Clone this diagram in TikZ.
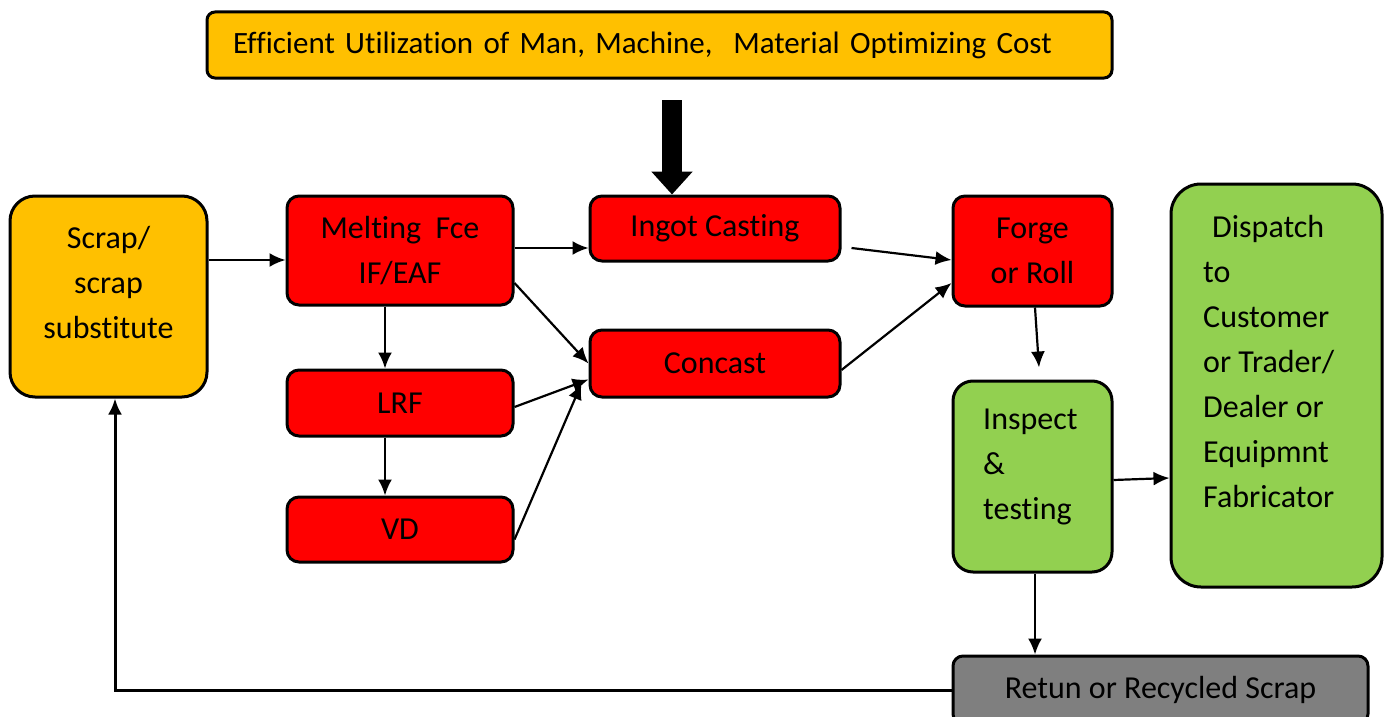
\documentclass[tikz,border=0pt]{standalone}
\usepackage{fontspec}
\setmainfont{Carlito}[Ligatures=NoCommon]
\usepackage{tikz}
\usetikzlibrary{arrows.meta}
\usetikzlibrary{calc}
\definecolor{amber}{HTML}{FFC000}
\definecolor{leafgreen}{HTML}{92D050}
\definecolor{slag}{HTML}{7F7F7F}

\begin{document}
\begin{tikzpicture}[x=1pt,y=-1pt,
  font=\fontsize{32}{45}\selectfont,
  box/.style={draw=black,line width=3pt,rounded corners=12pt,inner sep=0pt,align=center},
  hot/.style={box,fill=red},
  conn/.style={line width=2.2pt,-{Latex[length=16pt,width=14pt]}},
  txt/.style={inner sep=0pt,align=left,anchor=west}]
\useasboundingbox (0,0) rectangle (1389,717);
% boxes
\node[box,fill=amber,minimum width=905pt,minimum height=66pt,rounded corners=8pt,text width=853pt,align=left,font=\fontsize{31}{45}\selectfont] (goal) at (659.5,45) {Efficient Utilization of Man, Machine,\ \ Material Optimizing Cost};
\node[box,fill=amber,minimum width=197pt,minimum height=201pt,rounded corners=25pt] (scrap) at (108.5,296.5) {};
\node[hot,minimum width=226pt,minimum height=109pt] (melt) at (400,250.5) {Melting\ \ Fce\\IF/EAF};
\node[hot,minimum width=250pt,minimum height=65pt] (ingot) at (715,228.5) {Ingot Casting};
\node[hot,minimum width=250pt,minimum height=67pt] (concast) at (715,363.5) {Concast};
\node[hot,minimum width=226pt,minimum height=66pt] (lrf) at (400,403) {LRF};
\node[hot,minimum width=226pt,minimum height=65pt] (vd) at (400,529.5) {VD};
\node[hot,minimum width=159pt,minimum height=110pt] (forge) at (1032.5,251) {Forge\\or Roll};
\node[box,fill=leafgreen,minimum width=159pt,minimum height=191pt,rounded corners=20pt] (inspect) at (1032.5,476.5) {};
\node[box,fill=leafgreen,minimum width=211pt,minimum height=403pt,rounded corners=30pt] (dispatch) at (1276.5,385.5) {};
\node[box,fill=slag,minimum width=415pt,minimum height=68pt,rounded corners=10pt] (ret) at (1160.5,690) {Retun or Recycled Scrap};
% texts
\node[inner sep=0pt,align=center] (scraptxt) at (108.5,283) {Scrap/\\scrap\\substitute};
\node[txt] (insptxt) at (983,467) {Inspect\\\&\\testing};
\node[txt] (disptxt) at (1203,362) {\hspace*{9pt}Dispatch\\to\\Customer\\or Trader/\\Dealer or\\Equipmnt\\Fabricator};
% thick arrow
\coordinate (push) at (672,100);
\draw[line width=20pt,-{Triangle[length=23pt,width=40pt]}] (push) -- (push |- ingot.north);
% connectors
\draw[conn] ($(scrap.east)+(0,-36.5)$) -- ($(melt.west)+(0,9.5)$);
\draw[conn] ($(melt.east)+(0,-2.5)$) -- ($(ingot.west)+(0,19.5)$);
\draw[conn] ($(melt.east)+(0,32.5)$) -- (concast.west);
\draw[conn] ($(lrf.east)+(0,4)$) -- ($(concast.west)+(0,16)$);
\draw[conn] ($(vd.east)+(0,10)$) -- ($(concast.west)+(-7,20)$);
\draw[conn] ($(melt.south)+(-15,0)$) -- ($(lrf.north)+(-15,0)$);
\draw[conn] ($(lrf.south)+(-15,0)$) -- ($(vd.north)+(-15,0)$);
\draw[conn] ($(ingot.east)+(10,19.5)$) -- ($(forge.west)+(0,9)$);
\draw[conn] ($(concast.east)+(0,6.5)$) -- ($(forge.west)+(0,32)$);
\draw[conn] ($(forge.south)+(2.5,0)$) -- ($(inspect.north)+(6.5,-12)$);
\draw[conn] ($(inspect.east)+(0,3.5)$) -- ($(dispatch.west)+(0,92.5)$);
\draw[conn] ($(inspect.south)+(2.5,0)$) -- ($(ret.north)+(-125.5,0)$);
\draw[conn,line width=3pt] (ret.west) -| ($(scrap.south)+(6.5,0)$);
\end{tikzpicture}
\end{document}
